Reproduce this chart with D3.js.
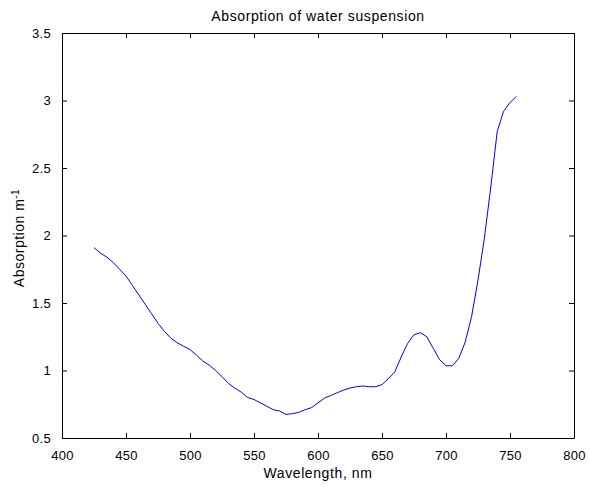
<!DOCTYPE html>
<html>
<head>
<meta charset="utf-8">
<script src="https://cdn.jsdelivr.net/npm/d3@7"></script>
<style>
  html, body { margin: 0; padding: 0; background: #fff; }
  svg text { font-family: "Liberation Sans", Arial, sans-serif; fill: #000; }
</style>
</head>
<body>
<svg id="chart" width="590" height="487"></svg>
<script>
// Absorption spectrum of the water suspension, sampled every 5 nm
const wavelengths = [425, 430, 435, 440, 445, 450, 455, 460, 465, 470, 475, 480, 485, 490, 495,
  500, 505, 510, 515, 520, 525, 530, 535, 540, 545, 550, 555, 560, 565, 570, 575, 580, 585, 590,
  595, 600, 605, 610, 615, 620, 625, 630, 635, 640, 645, 650, 655, 660, 665, 670, 675, 680, 685,
  690, 695, 700, 705, 710, 715, 720, 725, 730, 735, 740, 745, 750, 755];
const absorption = [1.91, 1.87, 1.84, 1.80, 1.75, 1.70, 1.63, 1.56, 1.49, 1.42, 1.35, 1.29, 1.24,
  1.205, 1.18, 1.155, 1.115, 1.07, 1.04, 1.00, 0.955, 0.905, 0.87, 0.84, 0.80, 0.785, 0.76, 0.735,
  0.71, 0.70, 0.675, 0.68, 0.69, 0.71, 0.725, 0.76, 0.795, 0.815, 0.835, 0.855, 0.87, 0.88, 0.885,
  0.88, 0.88, 0.895, 0.94, 0.99, 1.10, 1.20, 1.265, 1.28, 1.25, 1.165, 1.08, 1.035, 1.035, 1.09,
  1.21, 1.40, 1.67, 1.98, 2.36, 2.77, 2.92, 2.985, 3.03];

const xTicks = [400, 450, 500, 550, 600, 650, 700, 750, 800];
const yTicks = [0.5, 1, 1.5, 2, 2.5, 3, 3.5];

const titleText = "Absorption of water suspension";
const xLabelText = "Wavelength, nm";

const svg = d3.select("#chart");
const plotLeft = 62, plotRight = 574, plotTop = 33, plotBottom = 438;

const x = d3.scaleLinear().domain([400, 800]).range([plotLeft, plotRight]);
const y = d3.scaleLinear().domain([0.5, 3.5]).range([plotBottom, plotTop]);

const tickFmt = d => String(d);
const tickFont = 13, labelFont = 14;

// Axes with inward ticks on all four sides
const axes = [
  { gen: d3.axisBottom(x).tickValues(xTicks).tickFormat(tickFmt), t: `translate(0,${plotBottom})` },
  { gen: d3.axisTop(x).tickValues(xTicks).tickFormat(""), t: `translate(0,${plotTop})` },
  { gen: d3.axisLeft(y).tickValues(yTicks).tickFormat(tickFmt), t: `translate(${plotLeft},0)` },
  { gen: d3.axisRight(y).tickValues(yTicks).tickFormat(""), t: `translate(${plotRight},0)` }
];

axes.forEach((a, i) => {
  const g = svg.append("g").attr("transform", a.t)
    .call(a.gen.tickSizeInner(-5).tickSizeOuter(0).tickPadding(i === 0 ? 13 : 11));
  g.select(".domain").attr("stroke", "#000").attr("stroke-width", 1);
  g.selectAll(".tick line").attr("stroke", "#000");
  g.selectAll("text").attr("font-size", tickFont).attr("letter-spacing", 0.3)
    .style("font-family", '"Liberation Sans", Arial, sans-serif').attr("fill", "#000");
});

// Spectrum line
const line = d3.line()
  .x((d, i) => x(wavelengths[i]))
  .y(d => y(d));

svg.append("path")
  .datum(absorption)
  .attr("fill", "none")
  .attr("stroke", "#0000ff")
  .attr("stroke-width", 1)
  .attr("d", line);

// Title and axis labels
svg.append("text")
  .attr("x", (plotLeft + plotRight) / 2).attr("y", 21)
  .attr("text-anchor", "middle").attr("font-size", labelFont).attr("letter-spacing", 0.6)
  .text(titleText);

svg.append("text")
  .attr("x", (plotLeft + plotRight) / 2).attr("y", 478)
  .attr("text-anchor", "middle").attr("font-size", labelFont).attr("letter-spacing", 0.6)
  .text(xLabelText);

const yl = svg.append("text")
  .attr("transform", "translate(24,238) rotate(-90)")
  .attr("text-anchor", "middle").attr("font-size", labelFont).attr("letter-spacing", 0.5);
yl.append("tspan").text("Absorption m");
yl.append("tspan").attr("font-size", 10).attr("dy", -5).text("-1");
</script>
</body>
</html>
